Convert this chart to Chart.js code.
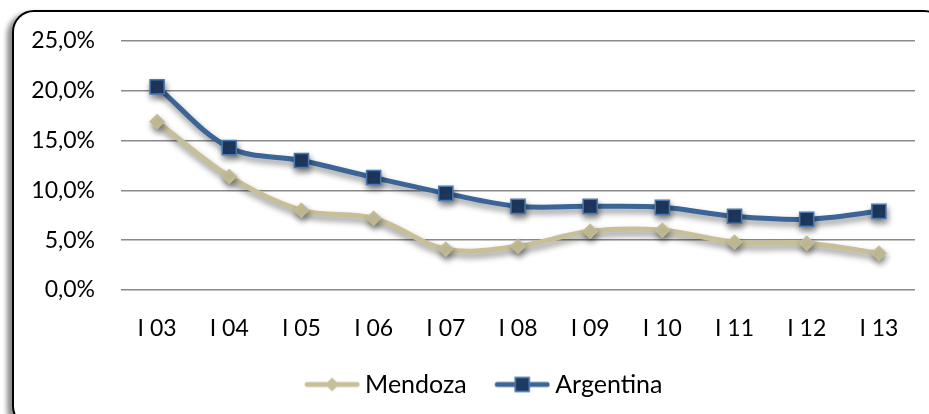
<!DOCTYPE html>
<html>
<head>
<meta charset="utf-8">
<script src="https://cdn.jsdelivr.net/npm/chart.js@4/dist/chart.umd.min.js"></script>
<style>
  html, body { margin: 0; padding: 0; width: 929px; height: 414px; overflow: hidden; background: #fff; }
  #frame { position: absolute; left: 12px; top: 10px; width: 930px; height: 414px; border: 2px solid #000; border-radius: 22px; box-shadow: -5px 3px 5px rgba(0,0,0,0.45); background: #fff; }
  #wrap { position: absolute; left: 0; top: 0; width: 929px; height: 414px; }
</style>
</head>
<body>
<div id="frame"></div>
<div id="wrap"><canvas id="c" width="929" height="414"></canvas></div>
<script>
const categories = ["I 03", "I 04", "I 05", "I 06", "I 07", "I 08", "I 09", "I 10", "I 11", "I 12", "I 13"];
const mendoza = [16.9, 11.4, 8.0, 7.2, 4.1, 4.4, 5.9, 6.0, 4.8, 4.7, 3.7];
const argentina = [20.4, 14.3, 13.0, 11.3, 9.7, 8.4, 8.4, 8.3, 7.4, 7.1, 7.9];
const yTicks = [0, 5, 10, 15, 20, 25];

const FONT = "Lato";
const mendozaColor = "#c6bf98";
const argLine = "#3a6596";
const argFill = "#1f3a60";
const argBorder = "#4a78b0";

function legendIcon(kind) {
  const cv = document.createElement("canvas");
  cv.width = 71; cv.height = 18;
  const g = cv.getContext("2d");
  const x0 = 15.5, x1 = 70.5, xm = (x0 + x1) / 2;
  g.lineCap = "round";
  g.lineWidth = 5;
  g.strokeStyle = kind === "m" ? mendozaColor : argLine;
  g.beginPath(); g.moveTo(x0 + 2.5, 9); g.lineTo(x1 - 2.5, 9); g.stroke();
  if (kind === "m") {
    g.fillStyle = mendozaColor;
    g.beginPath(); g.moveTo(xm, 2); g.lineTo(xm + 7, 9); g.lineTo(xm, 16); g.lineTo(xm - 7, 9); g.closePath(); g.fill();
  } else {
    g.fillStyle = argFill; g.strokeStyle = argBorder; g.lineWidth = 1.5;
    g.fillRect(xm - 7, 2, 14, 14); g.strokeRect(xm - 7, 2, 14, 14);
  }
  return cv;
}
const icons = [legendIcon("m"), legendIcon("a")];

const shadowPlugin = {
  id: "shadow",
  beforeDatasetsDraw(chart) {
    const ctx = chart.ctx;
    ctx.save();
    ctx.shadowColor = "rgba(0,0,0,0.45)";
    ctx.shadowBlur = 6;
    ctx.shadowOffsetX = 1;
    ctx.shadowOffsetY = 4;
  },
  afterDatasetsDraw(chart) { chart.ctx.restore(); }
};

const legendShift = {
  id: "legendShift",
  afterLayout(chart) {
    if (chart.legend) { chart.legend.left += 22; chart.legend.right += 22; }
  }
};

new Chart(document.getElementById("c"), {
  type: "line",
  data: {
    labels: categories,
    datasets: [
      { label: "Mendoza", data: mendoza, borderColor: mendozaColor, backgroundColor: mendozaColor,
        borderWidth: 5, tension: 0.35, pointStyle: "rectRot", pointRadius: 7.5,
        pointBackgroundColor: mendozaColor, pointBorderColor: mendozaColor, pointBorderWidth: 1 },
      { label: "Argentina", data: argentina, borderColor: argLine, backgroundColor: argFill,
        borderWidth: 5, tension: 0.35, pointStyle: "rect", pointRadius: 10,
        pointBackgroundColor: argFill, pointBorderColor: argBorder, pointBorderWidth: 1.5 }
    ]
  },
  options: {
    responsive: false,
    animation: false,
    layout: { padding: { left: 0, right: 14, top: 41, bottom: 7 } },
    scales: {
      x: {
        offset: true,
        grid: { display: false, drawTicks: false },
        border: { display: false },
        ticks: { color: "#000", font: { family: FONT, size: 23 }, padding: 25, maxRotation: 0 },
        afterFit(s) { s.height = 62; }
      },
      y: {
        min: 0, max: 25,
        afterBuildTicks(s) { s.ticks = yTicks.map(v => ({ value: v })); },
        grid: { color: "#8a8a8a", lineWidth: 1.5, drawTicks: false },
        border: { display: false },
        ticks: { color: "#000", font: { family: FONT, size: 23 }, padding: 26,
          callback: v => v.toFixed(1).replace(".", ",") + "%" },
        afterFit(s) { s.width = 121; }
      }
    },
    plugins: {
      legend: {
        position: "bottom",
        labels: {
          color: "#000",
          font: { family: FONT, size: 25 },
          usePointStyle: true,
          pointStyleWidth: 56,
          padding: 20,
          generateLabels(chart) {
            const items = Chart.defaults.plugins.legend.labels.generateLabels(chart);
            items.forEach((it, i) => { it.pointStyle = icons[i]; });
            return items;
          }
        }
      },
      tooltip: { enabled: false }
    }
  },
  plugins: [shadowPlugin, legendShift]
});
</script>
</body>
</html>
